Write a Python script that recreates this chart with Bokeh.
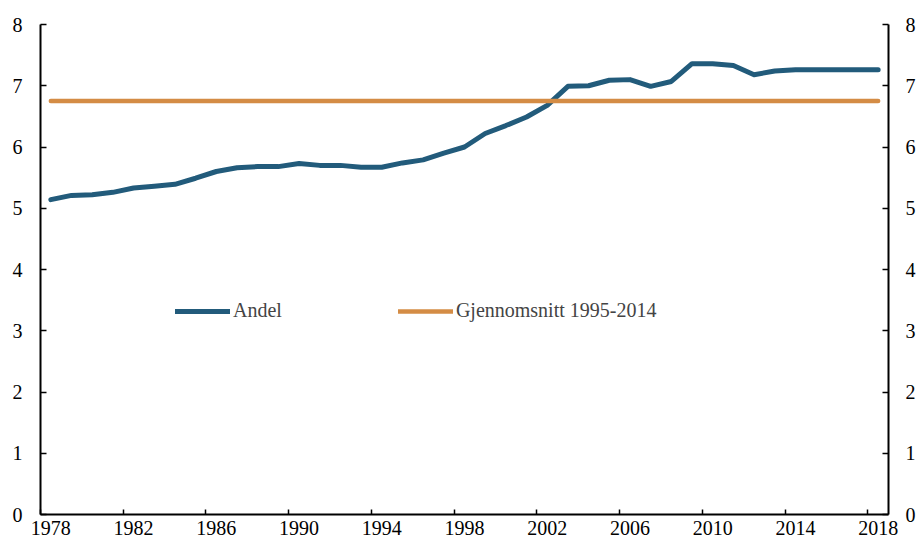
from bokeh.plotting import figure
from bokeh.models import LinearAxis, FixedTicker, Range1d, Legend, LegendItem, ColumnDataSource
from bokeh.embed import file_html
from bokeh.resources import INLINE

years = list(range(1978, 2019))
andel = [5.14, 5.21, 5.22, 5.26, 5.33, 5.36, 5.39, 5.49, 5.60, 5.66,
         5.68, 5.68, 5.73, 5.70, 5.70, 5.67, 5.67, 5.74, 5.79, 5.90,
         6.00, 6.22, 6.35, 6.49, 6.68, 6.99, 7.00, 7.09, 7.10, 6.99,
         7.07, 7.36, 7.36, 7.33, 7.18, 7.24, 7.26, 7.26, 7.26, 7.26, 7.26]
snitt_value = 6.75
tick_years = [1978, 1982, 1986, 1990, 1994, 1998, 2002, 2006, 2010, 2014, 2018]
y_ticks = [0, 1, 2, 3, 4, 5, 6, 7, 8]

FONT = "Liberation Serif"
FS = "20px"
BLUE = "#225b7b"
ORANGE = "#d48c45"

W, H = 918, 545

xc = [y + 0.5 for y in years]
src = ColumnDataSource(dict(x=xc, andel=andel, snitt=[snitt_value] * len(years)))

p = figure(width=W, height=H, output_backend="svg", toolbar_location=None,
           x_range=Range1d(years[0], years[-1] + 1), y_range=Range1d(0, 8),
           min_border_left=40, min_border_right=W - 889, min_border_top=24, min_border_bottom=H - 514)
p.outline_line_color = None
p.xgrid.visible = False
p.ygrid.visible = False
p.background_fill_color = "white"

r1 = p.line("x", "andel", source=src, line_color=BLUE, line_width=5, line_join="round", line_cap="round")
r2 = p.line("x", "snitt", source=src, line_color=ORANGE, line_width=4.5, line_cap="round")

# x axis: labels centred on years, tick marks at year boundaries
xa = p.xaxis[0]
xa.ticker = FixedTicker(ticks=[t + 0.5 for t in tick_years], minor_ticks=tick_years)
xa.major_label_overrides = {t + 0.5: str(t) for t in tick_years}
xa.major_tick_in = 0
xa.major_tick_out = 0
xa.minor_tick_in = 5
xa.minor_tick_out = 0
xa.minor_tick_line_color = "black"
xa.minor_tick_line_width = 1.5
xa.axis_line_width = 2
xa.major_label_standoff = 6

ya = p.yaxis[0]
ya.ticker = FixedTicker(ticks=y_ticks)
ya.minor_tick_line_color = None
ya.major_tick_in = 6
ya.major_tick_out = 0
ya.major_tick_line_width = 1.5
ya.axis_line_width = 2
ya.major_label_standoff = 18

yr = LinearAxis(ticker=FixedTicker(ticks=y_ticks))
yr.minor_tick_line_color = None
yr.major_tick_in = 6
yr.major_tick_out = 0
yr.major_tick_line_width = 1.5
yr.axis_line_width = 2
yr.major_label_standoff = 17
p.add_layout(yr, "right")

for ax in [xa, ya, yr]:
    ax.axis_line_color = "black"
    ax.major_tick_line_color = "black"
    ax.major_label_text_font = FONT
    ax.major_label_text_font_size = FS
    ax.major_label_text_color = "black"

legend = Legend(items=[LegendItem(label="Andel", renderers=[r1]),
                       LegendItem(label="Gjennomsnitt 1995-2014", renderers=[r2])],
                orientation="horizontal", location=(135, 192),
                border_line_color=None, background_fill_alpha=0,
                label_text_font=FONT, label_text_font_size=FS,
                glyph_width=55, label_standoff=3, spacing=116, padding=0, margin=0)
p.add_layout(legend, "center")

open("out.html", "w").write(file_html(p, INLINE))
